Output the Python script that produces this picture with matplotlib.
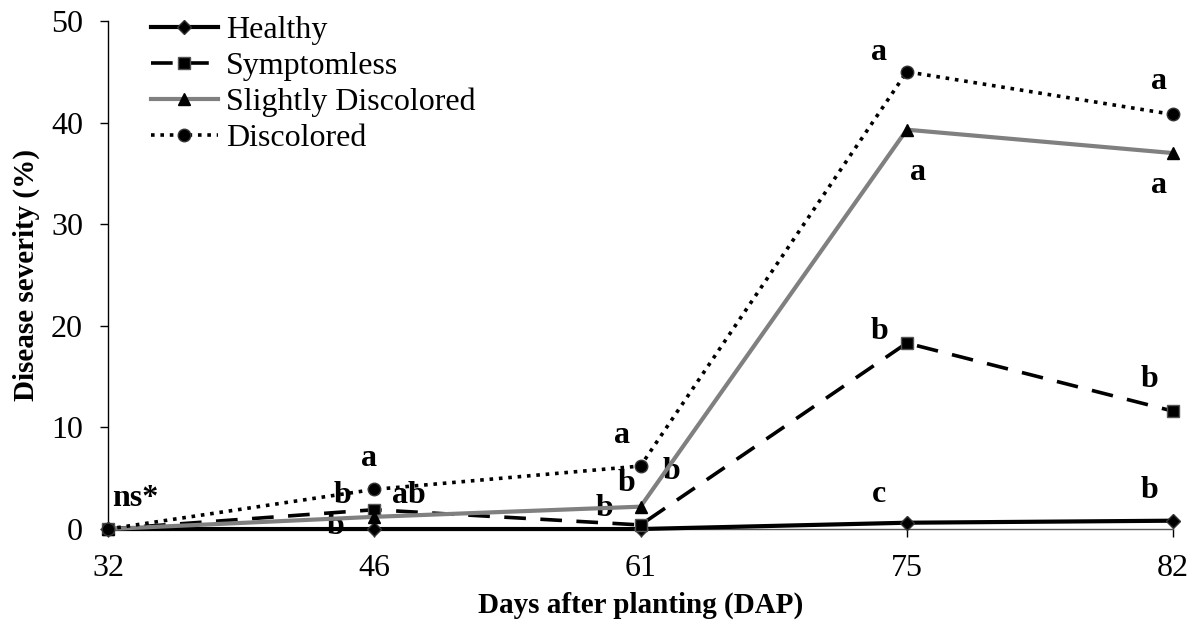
import matplotlib
matplotlib.use("Agg")
import matplotlib.pyplot as plt

days = ["32", "46", "61", "75", "82"]
healthy = [0, 0, 0, 0.62, 0.82]
symptomless = [0, 1.9, 0.4, 18.3, 11.6]
slightly = [0, 1.2, 2.2, 39.3, 37.0]
discolored = [0, 3.9, 6.2, 45.0, 40.8]
series_names = ["Healthy", "Symptomless", "Slightly Discolored", "Discolored"]

# letters: (category index, anchor value, text, dx pts, dy pts)
letters = [
    (0, 0, "ns*", 20, 22),
    (1, 3.9, "a", -4, 22),
    (1, 1.9, "b", -23, 10),
    (1, 1.9, "ab", 25, 10),
    (1, 1.2, "b", -28, -7),
    (2, 6.2, "a", -13, 22),
    (2, 2.2, "b", -10, 17),
    (2, 2.2, "b", 22, 25),
    (2, 0.4, "b", -26, 12),
    (3, 45.0, "a", -20, 14),
    (3, 39.3, "a", 8, -31),
    (3, 18.3, "b", -20, 8),
    (3, 0.62, "c", -20, 20),
    (4, 40.8, "a", -10, 24),
    (4, 37.0, "a", -10, -23),
    (4, 11.6, "b", -17, 23),
    (4, 0.82, "b", -17, 22),
]

plt.rcParams['font.family'] = ['Liberation Serif', 'DejaVu Serif']
fig = plt.figure(figsize=(11.97, 6.28), dpi=100)
ax = fig.add_axes([0.0902, 0.1576, 0.8898, 0.809])

x = list(range(len(days)))
ax.plot(x, healthy, color='black', lw=3, marker='D', ms=7, mfc='black', mec='#333333', label=series_names[0], zorder=3, clip_on=False)
ax.plot(x, symptomless, color='black', lw=2.6, ls=(0, (6, 4)), marker='s', ms=9, mfc='black', mec='#555555', label=series_names[1], zorder=4, clip_on=False)
ax.plot(x, slightly, color='#808080', lw=3, marker='^', ms=9, mfc='black', mec='black', label=series_names[2], zorder=5, clip_on=False)
ax.plot(x, discolored, color='black', lw=2.6, ls=(0, (1, 1.6)), marker='o', ms=9, mfc='black', mec='#333333', label=series_names[3], zorder=6, clip_on=False)

for i, v, t, dx, dy in letters:
    ax.annotate(t, xy=(i, v), xytext=(dx, dy), textcoords='offset points',
                ha='center', va='center', fontsize=23, fontweight='bold')

ax.set_xlim(0, 4)
ax.set_ylim(0, 50)
ax.set_xticks(x)
ax.set_xticklabels(days)
ax.set_yticks(range(0, 51, 10))
ax.tick_params(axis='both', direction='out', labelsize=23, length=6, width=1, colors='black')
ax.tick_params(axis='x', pad=12)
ax.tick_params(axis='y', pad=12)
ax.spines['top'].set_visible(False)
ax.spines['right'].set_visible(False)
ax.spines['left'].set_linewidth(1)
ax.spines['bottom'].set_linewidth(1)
ax.spines['bottom'].set_color('#555555')

ax.set_xlabel("Days after planting (DAP)", fontsize=21, fontweight='bold', labelpad=6)
ax.set_ylabel("Disease severity (%)", fontsize=21, fontweight='bold', labelpad=8)

leg = ax.legend(loc='upper left', bbox_to_anchor=(0.028, 1.035), frameon=False, fontsize=23,
                handlelength=2.1, handletextpad=0.25, labelspacing=0.2, borderaxespad=0)

fig.savefig("out.png", dpi=100)
